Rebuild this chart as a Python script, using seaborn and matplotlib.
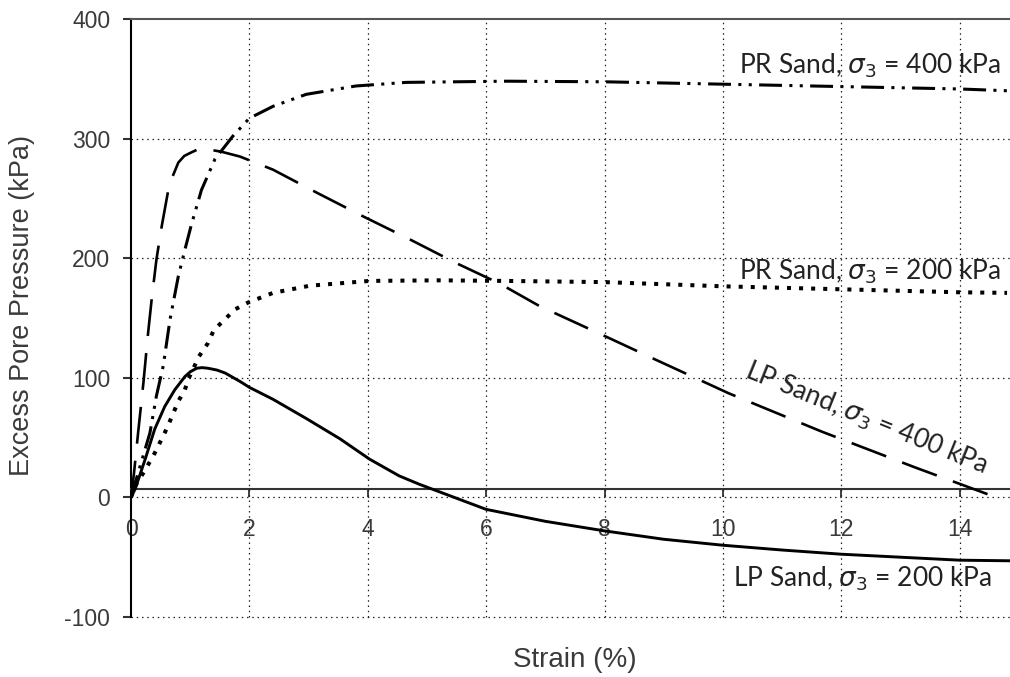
import numpy as np
import pandas as pd
import matplotlib
matplotlib.use("Agg")
import matplotlib.pyplot as plt
import seaborn as sns

# ---- data ----
lp200_x = [0, 0.07, 0.24, 0.40, 0.57, 0.74, 0.91, 1.0, 1.11, 1.2, 1.30, 1.45, 1.59, 1.84, 2.0, 2.40, 2.96, 3.53, 4.03, 4.53, 4.87, 5.3, 6.0, 7.0, 8.0, 9.0, 10.0, 11.0, 12.0, 13.0, 14.0, 14.85]
lp200_y = [0, 7, 32, 57, 76, 90, 101, 105, 108, 108.5, 108, 106.5, 104, 97, 92, 82, 66, 49, 32, 18, 11, 3, -10, -20, -28, -35, -40, -44, -47.5, -50, -52.5, -53]

lp400_x = [0, 0.05, 0.12, 0.21, 0.29, 0.35, 0.43, 0.52, 0.63, 0.70, 0.80, 0.90, 1.0, 1.13, 1.3, 1.53, 1.84, 2.4, 3.13, 3.92, 4.7, 5.49, 6.22, 6.9, 8.0, 8.87, 10.1, 11.67, 13.25, 14.51, 14.6]
lp400_y = [0, 20, 54, 96, 138, 166, 199, 227, 257, 268, 280, 285.5, 288, 291, 291, 289, 285, 274, 255, 235, 216, 196, 179, 160, 135, 115, 87, 55, 25, 2, 0]

pr400_x = [0, 0.07, 0.32, 0.43, 0.545, 0.66, 0.80, 0.91, 1.02, 1.19, 1.42, 1.72, 2.0, 2.4, 2.96, 3.8, 4.65, 6.34, 8.0, 10.0, 12.0, 14.0, 14.8]
pr400_y = [0, 12, 54, 85, 110, 149, 185, 207, 228, 257, 283, 302, 317, 327, 337, 344, 347, 348, 347.5, 345.5, 343.5, 341.5, 340]

pr200_x = [0, 0.07, 0.24, 0.40, 0.57, 0.66, 0.80, 0.91, 0.97, 1.15, 1.30, 1.40, 1.59, 1.75, 1.98, 2.4, 3.02, 4.03, 5.2, 6.34, 8.0, 10.0, 12.0, 14.0, 14.8]
pr200_y = [0, 9.5, 23, 37, 54, 64, 80.5, 90, 99, 118, 129, 140, 149, 157, 163, 171, 177, 181, 181.5, 181, 180, 176.5, 174, 171.5, 171]

x_ticks = [0, 2, 4, 6, 8, 10, 12, 14]
y_ticks = [-100, 0, 100, 200, 300, 400]
x_label = "Strain (%)"
y_label = "Excess Pore Pressure (kPa)"
labels = {
    "pr400": r"PR Sand, $\sigma_3$ = 400 kPa",
    "pr200": r"PR Sand, $\sigma_3$ = 200 kPa",
    "lp400": r"LP Sand, $\sigma_3$ = 400 kPa",
    "lp200": r"LP Sand, $\sigma_3$ = 200 kPa",
}

sns.set_theme(style="white")
plt.rcParams["font.family"] = ["Liberation Sans", "DejaVu Sans"]
plt.rcParams["mathtext.fontset"] = "dejavusans"
plt.rcParams["axes.unicode_minus"] = False

fig = plt.figure(figsize=(10.1, 6.77), dpi=100)
ax = fig.add_axes([131 / 1010, 1 - 617 / 677, 1 - 131 / 1010, (617 - 19) / 677])

ax.set_xlim(0, 14.85)
ax.set_ylim(-100, 400)

# grid (dotted)
grid_kw = dict(color="#222222", lw=0.9, linestyle=(0, (1.2, 3.0)), zorder=1, clip_on=False)
for gx in x_ticks[1:]:
    ax.axvline(gx, **grid_kw)
for gy in y_ticks[:-1]:
    ax.axhline(gy, **grid_kw)

def draw(xs, ys, lw, dashes, cap="butt"):
    sns.lineplot(x=xs, y=ys, ax=ax, color="black", linewidth=lw,
                 estimator=None, sort=False, zorder=3)
    ln = ax.lines[-1]
    if dashes is not None:
        ln.set_dashes(dashes)
    ln.set_dash_capstyle(cap)
    ln.set_solid_capstyle("round")
    ln.set_solid_joinstyle("round")

draw(lp200_x, lp200_y, 2.1, None)
draw(lp400_x, lp400_y, 1.9, (14, 6.5))
draw(pr400_x, pr400_y, 2.2, (7.5, 2.4, 1.0, 2.4, 1.0, 2.4))
draw(pr200_x, pr200_y, 2.9, (1.0, 2.0))

# spines
ax.spines["right"].set_visible(False)
ax.spines["top"].set_color("#555555")
ax.spines["top"].set_linewidth(1.5)
ax.spines["left"].set_color("black")
ax.spines["left"].set_linewidth(1.5)
ax.spines["bottom"].set_color("#333333")
ax.spines["bottom"].set_linewidth(1.5)
ax.spines["bottom"].set_position(("data", 7))

ax.set_xticks(x_ticks)
ax.set_yticks(y_ticks)
ax.tick_params(axis="x", direction="out", length=6, width=1.3, color="#333333",
               pad=15, labelsize=16.5, labelcolor="#3a3a3a")
ax.tick_params(axis="y", direction="out", length=6, width=1.5, color="#333333",
               pad=9, labelsize=16.5, labelcolor="#3a3a3a")
ax.xaxis.set_ticks_position("bottom")
ax.yaxis.set_ticks_position("left")

fig.text(575 / 1010, 1 - 660 / 677, x_label, ha="center", va="center",
         fontsize=20, color="#3a3a3a")
fig.text(22 / 1010, 1 - 305 / 677, y_label, ha="center", va="center",
         rotation=90, fontsize=19.5, color="#3a3a3a")

afont = dict(family=["Lato", "DejaVu Sans"], fontsize=19, color="#222222")
ax.text(14.70, 360.8, labels["pr400"], ha="right", va="center", zorder=4, **afont)
ax.text(14.70, 188.5, labels["pr200"], ha="right", va="center", zorder=4, **afont)
ax.text(14.55, -68, labels["lp200"], ha="right", va="center", zorder=4, **afont)
ax.text(12.42, 66, labels["lp400"], ha="center", va="center", rotation=-22,
        rotation_mode="anchor", zorder=4, **afont)

fig.savefig("out.png", dpi=100)
